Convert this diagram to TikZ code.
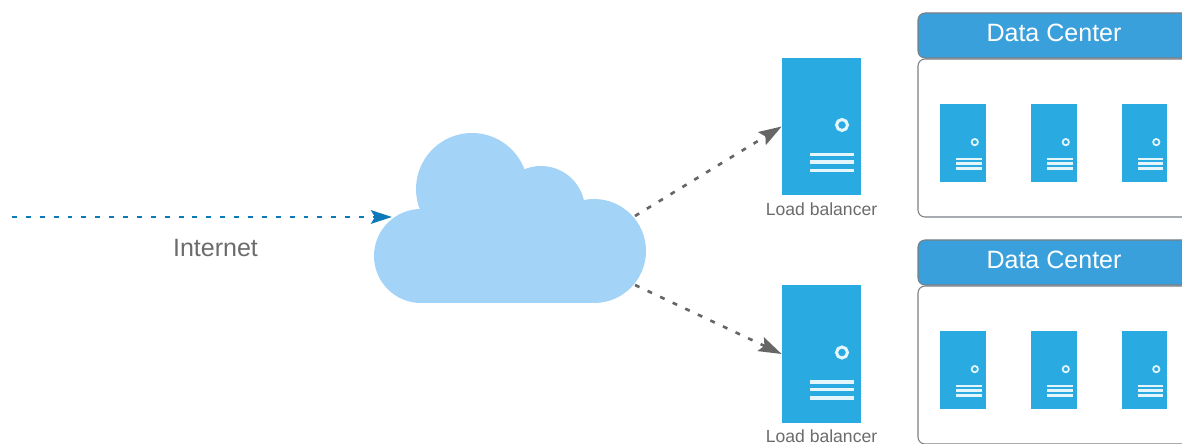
\documentclass[tikz,border=0pt]{standalone}
\usepackage{fontspec}
\setmainfont{Liberation Sans}
\usetikzlibrary{arrows.meta}
\definecolor{srvblue}{HTML}{29ABE2}
\definecolor{hdrblue}{HTML}{3AA0DC}
\definecolor{cloudblue}{HTML}{A3D3F6}
\definecolor{netblue}{HTML}{0C7ABA}
\definecolor{txtgray}{HTML}{6B6B6B}
\definecolor{linegray}{HTML}{666666}
\definecolor{edgegray}{HTML}{7A7F85}
\tikzset{
  serverbox/.style={fill=srvblue,inner sep=0pt},
  serverbit/.style={draw=white!88!srvblue},
  dchead/.style={draw=edgegray,fill=hdrblue,rounded corners=.14cm,line width=.6pt,
    minimum width=5.44cm,minimum height=.9cm,inner sep=0pt,text=white,text depth=.12cm,
    font=\fontsize{14.25}{16}\selectfont},
  dcbody/.style={draw=edgegray,fill=white,rounded corners=.14cm,line width=.6pt,
    minimum width=5.44cm,minimum height=3.16cm,inner sep=0pt},
  lblabel/.style={text=txtgray,inner sep=0pt,font=\fontsize{10}{12}\selectfont},
  netlink/.style={draw=netblue,line width=1.5pt,dash pattern=on 2.8pt off 5.1pt,
    -{Stealth[length=.42cm,width=.27cm,inset=.08cm]}},
  lblink/.style={draw=linegray,line width=1.5pt,dash pattern=on 2.8pt off 5.1pt,
    -{Stealth[length=.46cm,width=.3cm,inset=.08cm]}},
  pics/server/.style={code={
    \node[serverbox,minimum width=1.58cm*#1,minimum height=2.74cm*#1] (box) at (0,0) {};
    \draw[serverbit,line width=.06cm*#1] (.41*#1,.03*#1) circle (.11*#1);
    \foreach \y in {-.56,-.71,-.88}
      \draw[serverbit,line width=.022cm+.05cm*#1] (-.23*#1,\y*#1) -- (.65*#1,\y*#1);
  }}
}
\begin{document}
\begin{tikzpicture}
  \clip (0,0) rectangle (23.64,8.86);
  % Cloud
  \fill[cloudblue] (8.42,3.74) circle (.94);
  \fill[cloudblue] (11.88,3.84) circle (1.04);
  \fill[cloudblue] (9.44,5.08) circle (1.12);
  \fill[cloudblue] (10.82,4.66) circle (.88);
  \fill[cloudblue] (8.42,2.8) rectangle (11.88,4.6);
  \coordinate (netstart) at (.24,4.52);
  \coordinate (cloudin) at (7.84,4.52);
  \coordinate (cloudup) at (12.7,4.54);
  \coordinate (clouddown) at (12.7,3.16);
  \node[text=txtgray,font=\fontsize{14.25}{16}\selectfont] (net) at (4.31,3.9) {Internet};
  % Load balancers
  \pic (lbup) at (16.43,6.33) {server=1};
  \pic (lbdown) at (16.43,1.78) {server=1};
  \node[lblabel] (lbuptext) at (16.43,4.68) {Load balancer};
  \node[lblabel] (lbdowntext) at (16.43,.14) {Load balancer};
  \draw[netlink] (netstart) -- (cloudin);
  \draw[lblink] (cloudup) -- (lbupbox.west);
  \draw[lblink] (clouddown) -- (lbdownbox.west);
  % Data centers
  \node[dcbody] (dcupbody) at (21.08,6.10) {};
  \node[dchead] (dcuphead) at (21.08,8.15) {Data Center};
  \node[dcbody] (dcdownbody) at (21.08,1.56) {};
  \node[dchead] (dcdownhead) at (21.08,3.61) {Data Center};
  \foreach \n/\x in {a/19.26,b/21.08,c/22.89} {
    \pic (up\n) at (\x,6.00) {server=.575};
    \pic (down\n) at (\x,1.46) {server=.575};
  }
\end{tikzpicture}
\end{document}
